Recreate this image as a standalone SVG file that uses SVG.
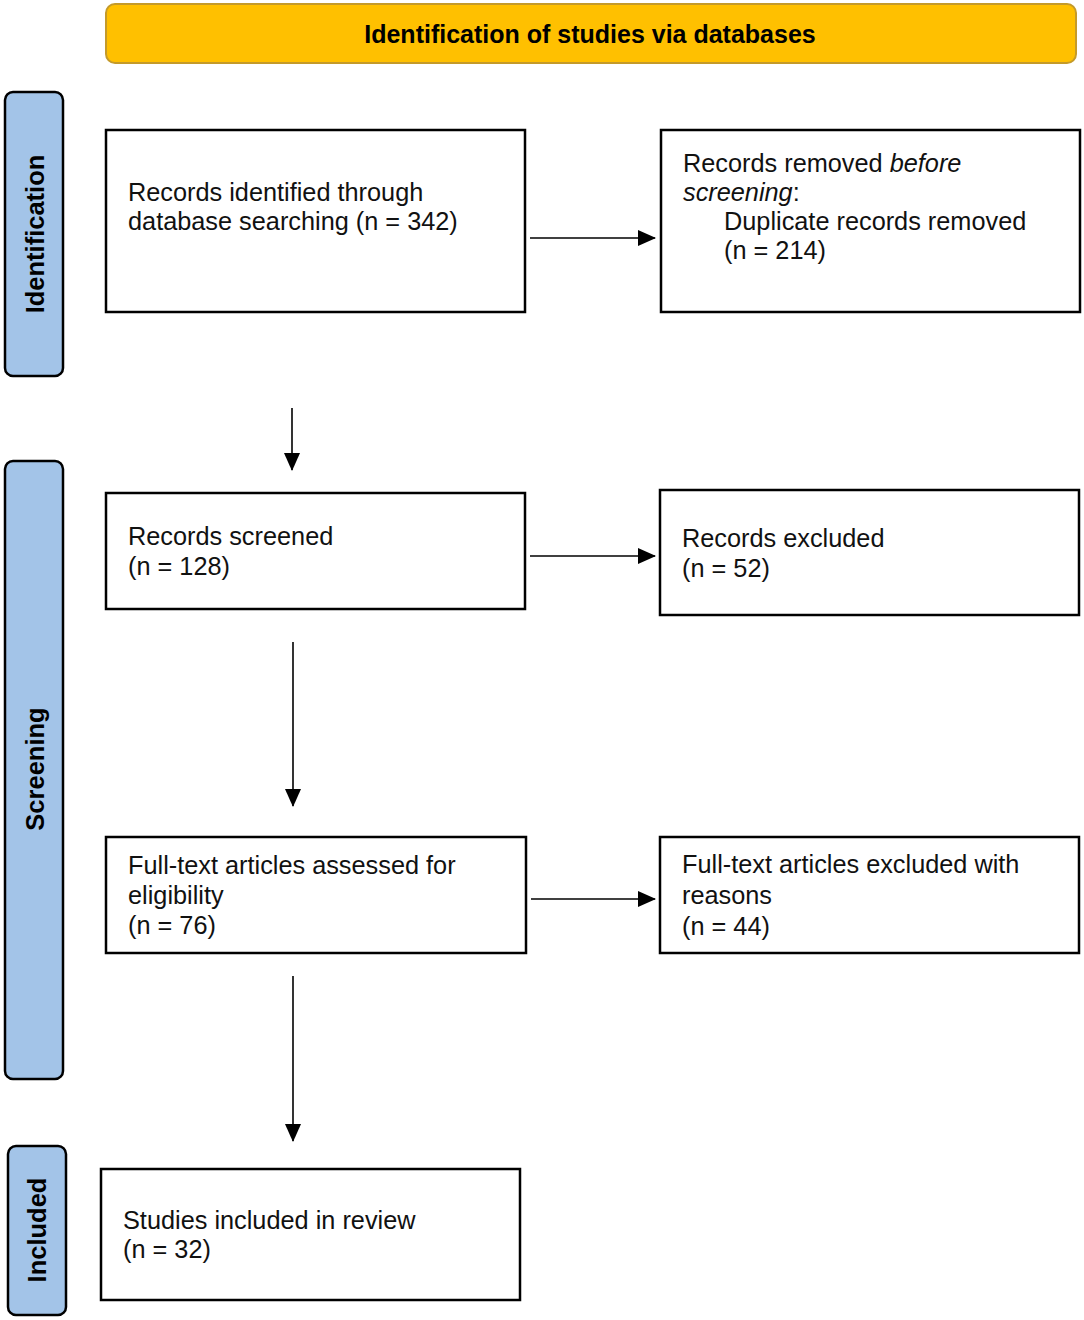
<svg xmlns="http://www.w3.org/2000/svg" width="1084" height="1320" viewBox="0 0 1084 1320">
<defs>
<marker id="arr" markerWidth="18" markerHeight="18" refX="17" refY="8" orient="auto" markerUnits="userSpaceOnUse" viewBox="0 0 18 16">
<path d="M0,0 L18,8 L0,16 z" fill="#000"/>
</marker>
<style>
.box{fill:#fff;stroke:#000;stroke-width:2.5}
.side{fill:#A3C4E8;stroke:#000;stroke-width:2.5}
.t{font-family:"Liberation Sans",Arial,sans-serif;font-size:25.3px;fill:#111}
.st{font-family:"Liberation Sans",Arial,sans-serif;font-size:25.5px;font-weight:bold;fill:#000}
.ht{font-family:"Liberation Sans",Arial,sans-serif;font-size:25px;font-weight:bold;fill:#000}
.conn{stroke:#000;stroke-width:1.6;fill:none}
</style>
</defs>
<rect width="1084" height="1320" fill="#fff"/>
<g id="header">
<rect x="106" y="4" width="970" height="59" rx="9" fill="#FFC000" stroke="#C49A2A" stroke-width="2"/>
<text x="590" y="43" text-anchor="middle" class="ht">Identification of studies via databases</text>
</g>
<g id="side-identification">
<rect x="5" y="92" width="58" height="284" rx="8" class="side"/>
<text transform="translate(44,234) rotate(-90)" text-anchor="middle" class="st">Identification</text>
</g>
<g id="side-screening">
<rect x="5" y="461" width="58" height="618" rx="8" class="side"/>
<text transform="translate(44,769) rotate(-90)" text-anchor="middle" class="st">Screening</text>
</g>
<g id="side-included">
<rect x="8" y="1146" width="58" height="169" rx="8" class="side"/>
<text transform="translate(46,1230) rotate(-90)" text-anchor="middle" class="st">Included</text>
</g>
<g id="n1">
<rect x="106" y="130" width="419" height="182" class="box"/>
<text class="t" x="128" y="201">Records identified through</text>
<text class="t" x="128" y="230">database searching (n = 342)</text>
</g>
<g id="n2">
<rect x="661" y="130" width="419" height="182" class="box"/>
<text class="t" x="683" y="172">Records removed <tspan font-style="italic">before</tspan></text>
<text class="t" x="683" y="201"><tspan font-style="italic">screening</tspan>:</text>
<text class="t" x="724" y="230">Duplicate records removed</text>
<text class="t" x="724" y="259">(n = 214)</text>
</g>
<g id="n3">
<rect x="106" y="493" width="419" height="116" class="box"/>
<text class="t" x="128" y="545">Records screened</text>
<text class="t" x="128" y="575">(n = 128)</text>
</g>
<g id="n4">
<rect x="660" y="490" width="419" height="125" class="box"/>
<text class="t" x="682" y="547">Records excluded</text>
<text class="t" x="682" y="577">(n = 52)</text>
</g>
<g id="n5">
<rect x="106" y="837" width="420" height="116" class="box"/>
<text class="t" x="128" y="874">Full-text articles assessed for</text>
<text class="t" x="128" y="904">eligibility</text>
<text class="t" x="128" y="934">(n = 76)</text>
</g>
<g id="n6">
<rect x="660" y="837" width="419" height="116" class="box"/>
<text class="t" x="682" y="873">Full-text articles excluded with</text>
<text class="t" x="682" y="904">reasons</text>
<text class="t" x="682" y="935">(n = 44)</text>
</g>
<g id="n7">
<rect x="101" y="1169" width="419" height="131" class="box"/>
<text class="t" x="123" y="1229">Studies included in review</text>
<text class="t" x="123" y="1258">(n = 32)</text>
</g>
<g id="connectors">
<line class="conn" x1="530" y1="238" x2="655" y2="238" marker-end="url(#arr)"/>
<line class="conn" x1="292" y1="408" x2="292" y2="470" marker-end="url(#arr)"/>
<line class="conn" x1="530" y1="556" x2="655" y2="556" marker-end="url(#arr)"/>
<line class="conn" x1="293" y1="642" x2="293" y2="806" marker-end="url(#arr)"/>
<line class="conn" x1="531" y1="899" x2="655" y2="899" marker-end="url(#arr)"/>
<line class="conn" x1="293" y1="976" x2="293" y2="1141" marker-end="url(#arr)"/>
</g>
</svg>
